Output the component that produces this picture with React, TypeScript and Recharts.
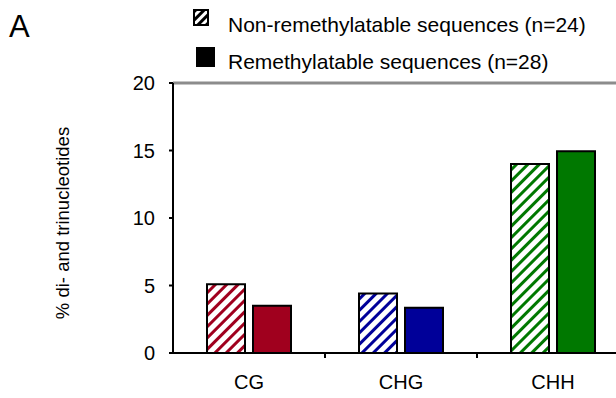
import { BarChart, Bar, XAxis, YAxis, Cell, ReferenceLine, Label } from "recharts"

const categories = ["CG", "CHG", "CHH"]
const nonRemethylatable = [5.1, 4.4, 14.0]
const remethylatable = [3.5, 3.35, 14.95]
const yTicks = [0, 5, 10, 15, 20]
const colors = ["#A0001E", "#000099", "#007800"]
const legendLabels = ["Non-remethylatable sequences (n=24)", "Remethylatable sequences (n=28)"]

const data = categories.map((name, i) => ({
  name,
  non: nonRemethylatable[i],
  remeth: remethylatable[i],
}))

const font = "'Liberation Sans', Arial, sans-serif"
const chartW = 640
const plotLeft = 173
const plotRight = 11

// category tick: label in the middle, small tick mark at the right band edge
function CategoryTick(props: any) {
  const { x, y, payload, index } = props
  const band = (chartW - plotLeft - plotRight) / categories.length
  return (
    <g>
      <text x={x} y={y + 28} textAnchor="middle" fontSize={20} fontFamily={font} fill="#000">
        {payload.value}
      </text>
      {index < categories.length - 1 && (
        <line x1={x + band / 2} x2={x + band / 2} y1={y - 8} y2={y - 3} stroke="#000" strokeWidth={2} />
      )}
    </g>
  )
}

export default function App() {
  return (
    <div style={{ position: "fixed", left: 0, top: 0, width: 616, height: 398, overflow: "hidden", background: "#fff" }}>
      <svg width={616} height={80} style={{ position: "absolute", left: 0, top: 0 }}>
        <defs>
          <pattern id="hatch-legend" patternUnits="userSpaceOnUse" width={6} height={6} patternTransform="rotate(45)">
            <rect width={6} height={6} fill="#fff" />
            <rect width={3} height={6} fill="#000" />
          </pattern>
        </defs>
        <text x={9} y={37} fontSize={31} fontFamily={font} fill="#000">A</text>
        <rect x={194} y={10} width={14} height={15} fill="url(#hatch-legend)" stroke="#000" strokeWidth={2} />
        <text x={228} y={32} fontSize={21} fontFamily={font} fill="#000">{legendLabels[0]}</text>
        <rect x={196} y={47} width={19} height={20} fill="#000" />
        <text x={228} y={69} fontSize={21} fontFamily={font} fill="#000">{legendLabels[1]}</text>
      </svg>

      <div style={{ position: "absolute", left: 0, top: 0 }}>
        <BarChart
          width={chartW}
          height={398}
          data={data}
          margin={{ top: 83, right: plotRight, left: 0, bottom: 0 }}
          barSize={38}
          barGap={8}
        >
          <defs>
            {colors.map((c, i) => (
              <pattern
                key={i}
                id={`hatch-${i}`}
                patternUnits="userSpaceOnUse"
                width={8}
                height={8}
                patternTransform="rotate(45)"
              >
                <rect width={8} height={8} fill="#fff" />
                <rect width={3} height={8} fill={c} />
              </pattern>
            ))}
          </defs>
          <ReferenceLine y={20} stroke="#8c8c8c" strokeWidth={3} />
          <XAxis
            dataKey="name"
            height={45}
            axisLine={{ stroke: "#000", strokeWidth: 2 }}
            tickLine={false}
            tick={<CategoryTick />}
            interval={0}
          />
          <YAxis
            width={plotLeft}
            domain={[0, 20]}
            ticks={yTicks}
            interval={0}
            axisLine={{ stroke: "#000", strokeWidth: 2 }}
            tickLine={{ stroke: "#000", strokeWidth: 2 }}
            tickSize={4}
            tickMargin={14}
            tick={{ fontSize: 20, fontFamily: font, fill: "#000" }}
          >
            <Label
              content={({ viewBox }: any) => {
                const cy = viewBox.y + viewBox.height / 2 + 5
                return (
                  <text
                    x={64}
                    y={cy}
                    transform={`rotate(-90, 64, ${cy})`}
                    textAnchor="middle"
                    dominantBaseline="middle"
                    fontSize={18.5}
                    fontFamily={font}
                    fill="#000"
                  >
                    % di- and trinucleotides
                  </text>
                )
              }}
            />
          </YAxis>
          <Bar dataKey="non" stroke="#000" strokeWidth={2} isAnimationActive={false}>
            {data.map((_, i) => (
              <Cell key={i} fill={`url(#hatch-${i})`} />
            ))}
          </Bar>
          <Bar dataKey="remeth" stroke="#000" strokeWidth={2} isAnimationActive={false}>
            {data.map((_, i) => (
              <Cell key={i} fill={colors[i]} />
            ))}
          </Bar>
        </BarChart>
      </div>
    </div>
  )
}
